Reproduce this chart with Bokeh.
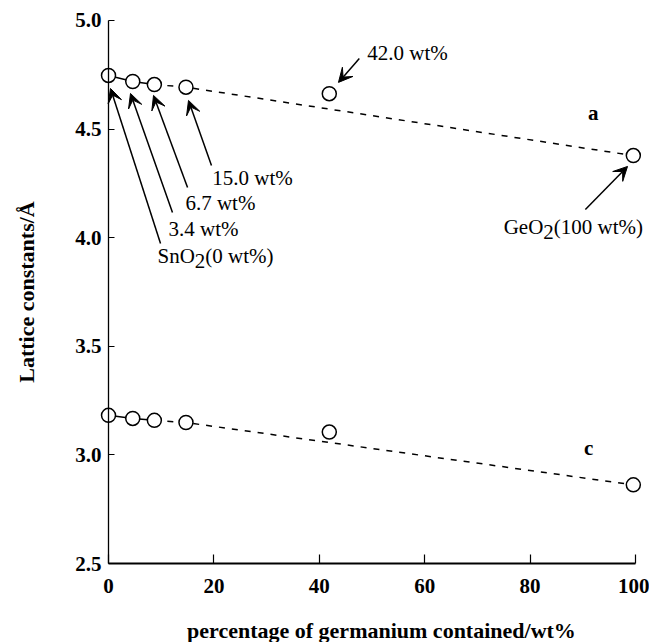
from bokeh.plotting import figure
from bokeh.models import (ColumnDataSource, Range1d, FixedTicker, Arrow, VeeHead, Label)
from bokeh.embed import file_html
from bokeh.resources import INLINE

# ---- data ----
wt = [0, 4.6, 8.7, 14.7, 41.9, 99.6]              # germanium content (wt%) as plotted
a_const = [4.747, 4.719, 4.705, 4.693, 4.663, 4.378]
c_const = [3.182, 3.168, 3.159, 3.149, 3.105, 2.862]
x_ticks = [0, 20, 40, 60, 80, 100]
y_ticks = [2.5, 3.0, 3.5, 4.0, 4.5, 5.0]
y_tick_labels = {2.5: "2.5", 3.0: "3.0", 3.5: "3.5", 4.0: "4.0", 4.5: "4.5", 5.0: "5.0"}
x_title = "percentage of germanium contained/wt%"
y_title = "Lattice constants/Å"

FONT = "Liberation Serif"

p = figure(frame_width=649, frame_height=642,
           x_range=Range1d(-20.5, 102.67), y_range=Range1d(2.1363, 5.092),
           output_backend="svg", toolbar_location=None,
           min_border_left=0, min_border_right=0, min_border_top=0, min_border_bottom=0)
p.grid.visible = False
p.outline_line_color = None
p.background_fill_color = "white"

# axes
xa = p.xaxis[0]
xa.fixed_location = 2.5
xa.bounds = (0, 100)
xa.ticker = FixedTicker(ticks=x_ticks)
xa.major_tick_in = 9
xa.major_tick_out = 0
xa.minor_tick_line_color = None
xa.axis_line_width = 2
xa.axis_line_color = "black"
xa.major_tick_line_color = "black"
xa.major_tick_line_width = 1.2
xa.major_label_text_font = FONT
xa.major_label_text_font_style = "bold"
xa.major_label_text_font_size = "21px"
xa.major_label_text_color = "black"
xa.major_label_standoff = 15

ya = p.yaxis[0]
ya.fixed_location = 0
ya.bounds = (2.5, 5.0)
ya.ticker = FixedTicker(ticks=y_ticks)
ya.major_label_overrides = y_tick_labels
ya.major_tick_in = 6
ya.major_tick_out = 0
ya.minor_tick_line_color = None
ya.axis_line_width = 1.3
ya.axis_line_color = "black"
ya.major_tick_line_color = "black"
ya.major_tick_line_width = 1.2
ya.major_label_text_font = FONT
ya.major_label_text_font_style = "bold"
ya.major_label_text_font_size = "21px"
ya.major_label_text_color = "black"
ya.major_label_standoff = 7
ya.axis_label = y_title
ya.axis_label_text_font = FONT
ya.axis_label_text_font_style = "bold"
ya.axis_label_text_font_size = "22px"
ya.axis_label_text_color = "black"
ya.axis_label_standoff = 33

# x-axis title, centred under the printed part of the axis as in the original
p.add_layout(Label(x=51.8, y=2.191, text=x_title, text_font=FONT, text_font_size="22px",
                   text_font_style="bold", text_align="center", text_baseline="middle",
                   text_color="black"))

# connecting lines
for series in (a_const, c_const):
    p.line(wt[:3], series[:3], line_color="black", line_width=1.5)
    p.line([wt[2], wt[3], wt[5]], [series[2], series[3], series[5]],
           line_color="black", line_width=1.5, line_dash="6 7")

src = ColumnDataSource(dict(x=wt + wt, y=a_const + c_const))
p.scatter("x", "y", source=src, size=14, marker="circle",
          fill_color="white", line_color="black", line_width=1.5)

# annotations (arrows: tail -> head near each point)
arrows = [
    ((9.87, 3.973), (0.38, 4.687)),
    ((12.14, 4.116), (4.17, 4.664)),
    ((15.0, 4.231), (8.54, 4.655)),
    ((19.54, 4.332), (15.18, 4.632)),
    ((47.6, 4.825), (43.64, 4.715)),
    ((90.5, 4.130), (98.5, 4.328)),
]
for (xs, ys), (xe, ye) in arrows:
    p.add_layout(Arrow(x_start=xs, y_start=ys, x_end=xe, y_end=ye, line_width=1.5,
                       line_color="black",
                       end=VeeHead(size=14, fill_color="black", line_color="black", line_width=1)))

def lab(x, y, text, xo=0, yo=0, bold=False, align="left"):
    p.add_layout(Label(x=x, y=y, text=text, x_offset=xo, y_offset=yo,
                       text_font=FONT, text_font_size="21px",
                       text_font_style="bold" if bold else "normal",
                       text_baseline="middle", text_align=align, text_color="black"))

lab(9.3, 3.918, "SnO")
lab(9.3, 3.918, "2", xo=37.3, yo=-5)
lab(9.3, 3.918, "(0 wt%)", xo=47.8)
lab(11.4, 4.041, "3.4 wt%")
lab(14.6, 4.162, "6.7 wt%")
lab(19.7, 4.273, "15.0 wt%")
lab(49.1, 4.848, "42.0 wt%")
lab(75.0, 4.047, "GeO")
lab(75.0, 4.047, "2", xo=39.6, yo=-5)
lab(75.0, 4.047, "(100 wt%)", xo=50.1)
lab(92.0, 4.572, "a", bold=True, align="center")
lab(91.1, 3.03, "c", bold=True, align="center")

open("out.html", "w").write(file_html(p, INLINE))
